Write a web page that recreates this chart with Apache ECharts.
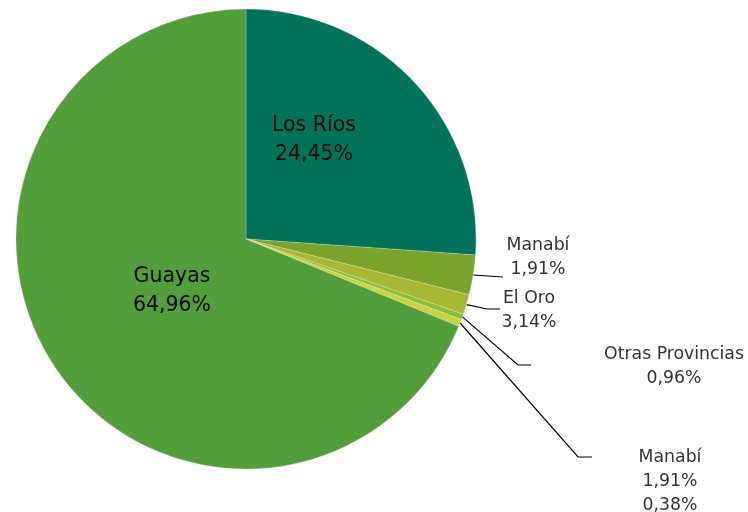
<!DOCTYPE html>
<html>
<head>
<meta charset="utf-8">
<script src="https://cdn.jsdelivr.net/npm/echarts@6/dist/echarts.min.js"></script>
<style>
html,body{margin:0;padding:0;background:#fff;}
#chart{width:748px;height:512px;}
</style>
</head>
<body>
<div id="chart"></div>
<script>
// Slices in clockwise order from 12 o'clock
const categories = ['Los Ríos', 'Manabí', 'El Oro', 'Otras Provincias', 'Manabí', 'Guayas'];
const sliceValues = [26.1, 2.8, 1.4, 0.4, 0.5, 68.8];
// Percent texts as printed on the chart's labels
const labelPercents = [['24,45%'], ['1,91%'], ['3,14%'], ['0,96%'], ['1,91%', '0,38%'], ['64,96%']];
const sliceColors = ['#00735A', '#7BA42D', '#A9B833', '#8CBC3C', '#C6D43E', '#529E3A'];

const FONT = '"DejaVu Sans", sans-serif';
const insideIdx = [0, 5];

// label anchor (centre of text block) and leader-line elbow/end
const labelAnchors = {
  0: {x: 314, y: 140},
  5: {x: 172, y: 291},
  1: {x: 538, y: 258, line: [[503, 277]]},
  2: {x: 529, y: 311, line: [[487, 309], [500, 309]]},
  3: {x: 674, y: 367, line: [[518, 365], [531, 365]]},
  4: {x: 670, y: 482, line: [[578, 457], [592, 457]]}
};

const data = categories.map((name, i) => {
  const inside = insideIdx.indexOf(i) >= 0;
  return {
    name: name,
    value: sliceValues[i],
    itemStyle: {color: sliceColors[i]},
    label: {
      show: true,
      position: inside ? 'inside' : 'outside',
      formatter: [name].concat(labelPercents[i]).join('\n'),
      fontFamily: FONT,
      fontSize: inside ? 20.5 : 17.3,
      lineHeight: inside ? 29 : 24,
      color: inside ? '#0a0a0a' : '#333333',
      align: 'center'
    },
    labelLine: {show: !inside, lineStyle: {color: '#000', width: 1.2}}
  };
});

const chart = echarts.init(document.getElementById('chart'), null, {renderer: 'canvas'});
chart.setOption({
  animation: false,
  backgroundColor: '#ffffff',
  series: [{
    type: 'pie',
    center: [246, 239],
    radius: 230,
    startAngle: 90,
    clockwise: true,
    avoidLabelOverlap: false,
    itemStyle: {borderColor: 'rgba(255,255,255,0.35)', borderWidth: 0.6},
    labelLine: {length: 6, length2: 20, smooth: false},
    data: data,
    labelLayout: function (params) {
      const a = labelAnchors[params.dataIndex];
      const out = {x: a.x, y: a.y, align: 'center', verticalAlign: 'middle', hideOverlap: false, moveOverlap: false};
      if (a.line && params.labelLinePoints) {
        out.labelLinePoints = [params.labelLinePoints[0]].concat(a.line.length === 1 ? [a.line[0], a.line[0]] : a.line);
      }
      return out;
    }
  }]
});
</script>
</body>
</html>
